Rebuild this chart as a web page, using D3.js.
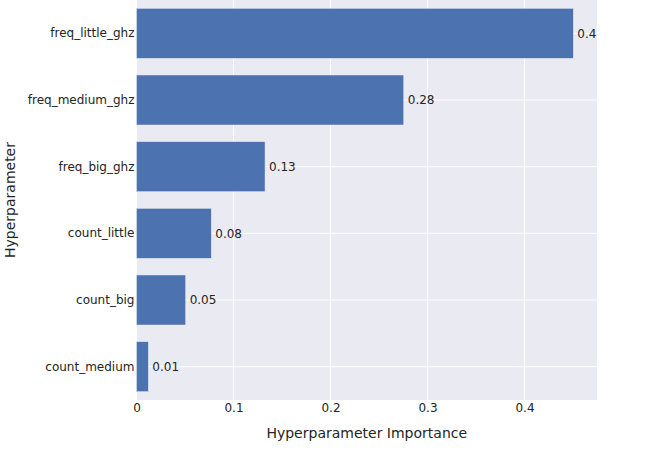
<!DOCTYPE html>
<html>
<head>
<meta charset="utf-8">
<script src="https://cdn.jsdelivr.net/npm/d3@7"></script>
<style>
  html, body { margin: 0; padding: 0; background: #fff; }
  svg { display: block; }
  text { font-family: "DejaVu Sans", Verdana, sans-serif; fill: rgb(36,36,36); }
</style>
</head>
<body>
<div id="chart"></div>
<script>
// Data (top to bottom as displayed)
const categories = ["freq_little_ghz", "freq_medium_ghz", "freq_big_ghz", "count_little", "count_big", "count_medium"];
const values = [0.4503, 0.2755, 0.1325, 0.0771, 0.0507, 0.0122];
const valueLabels = ["0.4", "0.28", "0.13", "0.08", "0.05", "0.01"];
const xTicks = [0, 0.1, 0.2, 0.3, 0.4];
const xTickLabels = ["0", "0.1", "0.2", "0.3", "0.4"];
const xTitle = "Hyperparameter Importance";
const yTitle = "Hyperparameter";

const W = 646, H = 450;
const margin = { left: 136.5, right: 49, top: 0, bottom: 50 };
const pw = W - margin.left - margin.right;
const ph = H - margin.top - margin.bottom;

const svg = d3.select("#chart").append("svg").attr("width", W).attr("height", H);

const x = d3.scaleLinear().domain([0, 0.4747]).range([margin.left, margin.left + pw]);
const y = d3.scaleBand().domain(categories).range([margin.top, margin.top + ph])
  .paddingInner(0.25).paddingOuter(0.125);

// plot background
svg.append("rect").attr("x", margin.left).attr("y", margin.top)
  .attr("width", pw).attr("height", ph).attr("fill", "#eaeaf2");

// grid
const g = svg.append("g");
g.selectAll("line.vx").data(xTicks).enter().append("line")
  .attr("x1", d => x(d)).attr("x2", d => x(d))
  .attr("y1", margin.top).attr("y2", margin.top + ph)
  .attr("stroke", "#fff").attr("stroke-width", 1);
g.selectAll("line.hy").data(categories).enter().append("line")
  .attr("x1", margin.left).attr("x2", margin.left + pw)
  .attr("y1", d => y(d) + y.bandwidth() / 2).attr("y2", d => y(d) + y.bandwidth() / 2)
  .attr("stroke", "#fff").attr("stroke-width", 1);

// bars
svg.selectAll("rect.bar").data(categories).enter().append("rect")
  .attr("class", "bar")
  .attr("x", x(0))
  .attr("y", d => y(d))
  .attr("width", (d, i) => x(values[i]) - x(0))
  .attr("height", y.bandwidth())
  .attr("fill", "#4c72b0")
  .attr("stroke", "#eaeaf2").attr("stroke-width", 0.5);

// value labels
svg.selectAll("text.val").data(categories).enter().append("text")
  .attr("x", (d, i) => x(values[i]) + 4)
  .attr("y", d => y(d) + y.bandwidth() / 2)
  .attr("dy", "0.36em")
  .attr("font-size", 12)
  .text((d, i) => valueLabels[i]);

// x axis labels
const xAxis = d3.axisBottom(x).tickValues(xTicks).tickFormat((d, i) => xTickLabels[i]).tickSize(0).tickPadding(0);
const xa = svg.append("g").attr("transform", `translate(0,${margin.top + ph})`).call(xAxis);
xa.select(".domain").remove();
xa.selectAll("text").attr("font-size", 12).attr("font-family", null).attr("fill", null)
  .attr("dy", null).attr("y", 12);

// y axis labels
const yAxis = d3.axisLeft(y).tickSize(0).tickPadding(2);
const ya = svg.append("g").attr("transform", `translate(${margin.left},0)`).call(yAxis);
ya.select(".domain").remove();
ya.selectAll("text").attr("font-size", 12).attr("font-family", null).attr("fill", null);

// titles
svg.append("text")
  .attr("x", margin.left + pw / 2).attr("y", 438)
  .attr("text-anchor", "middle").attr("font-size", 14)
  .text(xTitle);
svg.append("text")
  .attr("transform", `translate(15,${margin.top + ph / 2}) rotate(-90)`)
  .attr("text-anchor", "middle").attr("font-size", 14)
  .text(yTitle);
</script>
</body>
</html>
